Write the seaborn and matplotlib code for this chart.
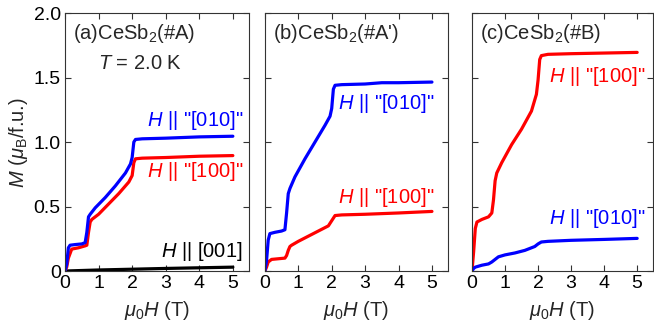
import numpy as np
import matplotlib
matplotlib.use("Agg")
import matplotlib.pyplot as plt
import seaborn as sns

sns.set_style("ticks")
plt.rcParams["font.family"] = ["Liberation Sans", "DejaVu Sans"]
plt.rcParams["mathtext.fontset"] = "custom"
plt.rcParams["mathtext.rm"] = "Liberation Sans"
plt.rcParams["mathtext.it"] = "Liberation Sans:italic"
plt.rcParams["mathtext.bf"] = "Liberation Sans:bold"

# panel (a) sample #A
a_h010 = [0, 0.05, 0.1, 0.15, 0.3, 0.5, 0.6, 0.65, 0.7, 0.75, 0.9, 1.2, 1.5, 1.8, 1.95, 2.0, 2.05, 2.1, 2.3, 3, 4, 5]
a_m010 = [0, 0.05, 0.18, 0.2, 0.205, 0.21, 0.22, 0.3, 0.42, 0.44, 0.49, 0.57, 0.66, 0.76, 0.83, 0.88, 1.0, 1.02, 1.025, 1.03, 1.04, 1.045]
a_h100 = [0, 0.05, 0.1, 0.2, 0.4, 0.6, 0.65, 0.7, 0.75, 0.8, 1.0, 1.3, 1.6, 1.9, 2.0, 2.05, 2.1, 2.3, 3, 4, 5]
a_m100 = [0, 0.03, 0.1, 0.17, 0.18, 0.195, 0.2, 0.3, 0.38, 0.4, 0.44, 0.52, 0.6, 0.69, 0.74, 0.84, 0.87, 0.875, 0.88, 0.89, 0.895]
a_h001 = [0, 1, 2, 3, 4, 5]
a_m001 = [0, 0.008, 0.014, 0.02, 0.025, 0.03]

# panel (b) sample #A'
b_h010 = [0, 0.05, 0.1, 0.15, 0.3, 0.5, 0.6, 0.65, 0.7, 0.75, 0.9, 1.2, 1.5, 1.8, 1.95, 2.0, 2.05, 2.1, 2.3, 3, 3.5, 4, 5]
b_m010 = [0, 0.08, 0.24, 0.29, 0.3, 0.31, 0.32, 0.45, 0.6, 0.64, 0.73, 0.87, 1.0, 1.13, 1.2, 1.26, 1.41, 1.44, 1.445, 1.45, 1.46, 1.46, 1.465]
b_h100 = [0, 0.05, 0.1, 0.2, 0.4, 0.6, 0.65, 0.7, 0.75, 0.8, 1.0, 1.3, 1.6, 1.9, 2.0, 2.1, 2.3, 3, 4, 5]
b_m100 = [0, 0.03, 0.07, 0.09, 0.095, 0.1, 0.12, 0.16, 0.19, 0.2, 0.23, 0.27, 0.31, 0.35, 0.39, 0.43, 0.435, 0.44, 0.45, 0.462]

# panel (c) sample #B
c_h100 = [0, 0.05, 0.1, 0.15, 0.3, 0.5, 0.6, 0.65, 0.7, 0.75, 0.9, 1.2, 1.5, 1.8, 1.95, 2.0, 2.05, 2.1, 2.3, 3, 4, 5]
c_m100 = [0, 0.15, 0.33, 0.38, 0.4, 0.42, 0.45, 0.55, 0.7, 0.76, 0.84, 0.98, 1.1, 1.24, 1.37, 1.48, 1.64, 1.67, 1.68, 1.685, 1.69, 1.695]
c_h010 = [0, 0.05, 0.1, 0.3, 0.5, 0.6, 0.7, 0.8, 1.0, 1.3, 1.6, 1.9, 2.0, 2.1, 2.3, 3, 4, 5]
c_m010 = [0, 0.02, 0.03, 0.045, 0.055, 0.07, 0.09, 0.11, 0.125, 0.14, 0.16, 0.19, 0.21, 0.225, 0.23, 0.238, 0.245, 0.253]

titles = ["(a)CeSb$_2$(#A)", "(b)CeSb$_2$(#A')", "(c)CeSb$_2$(#B)"]
lbl010 = r'$H$ || "[010]"'
lbl100 = r'$H$ || "[100]"'
lbl001 = r'$H$ || [001]'

blue, red = "#0000ff", "#ff0000"
lw = 2.3
fs = 14.5

fig = plt.figure(figsize=(6.54, 3.35), dpi=100)
bottom, top = 0.191, 0.961
lefts = [0.0994, 0.405, 0.7217]
widths = [0.2813, 0.280, 0.2768]
axes = [fig.add_axes([l, bottom, w, top - bottom]) for l, w in zip(lefts, widths)]

ax = axes[0]
sns.lineplot(x=a_h001, y=a_m001, color="black", lw=lw, ax=ax)
sns.lineplot(x=a_h100, y=a_m100, color=red, lw=lw, ax=ax)
sns.lineplot(x=a_h010, y=a_m010, color=blue, lw=lw, ax=ax)
ax.text(5.3, 1.17, lbl010, color=blue, ha="right", va="center", fontsize=fs)
ax.text(5.3, 0.77, lbl100, color=red, ha="right", va="center", fontsize=fs)
ax.text(5.3, 0.15, lbl001, color="black", ha="right", va="center", fontsize=fs)
ax.text(2.23, 1.61, "$T$ = 2.0 K", ha="center", va="center", fontsize=fs)

ax = axes[1]
sns.lineplot(x=b_h100, y=b_m100, color=red, lw=lw, ax=ax)
sns.lineplot(x=b_h010, y=b_m010, color=blue, lw=lw, ax=ax)
ax.text(5.06, 1.30, lbl010, color=blue, ha="right", va="center", fontsize=fs)
ax.text(5.06, 0.57, lbl100, color=red, ha="right", va="center", fontsize=fs)

ax = axes[2]
sns.lineplot(x=c_h100, y=c_m100, color=red, lw=lw, ax=ax)
sns.lineplot(x=c_h010, y=c_m010, color=blue, lw=lw, ax=ax)
ax.text(5.24, 1.51, lbl100, color=red, ha="right", va="center", fontsize=fs)
ax.text(5.24, 0.41, lbl010, color=blue, ha="right", va="center", fontsize=fs)

for i, ax in enumerate(axes):
    ax.set_xlim(0, 5.48)
    ax.set_ylim(0, 2.0)
    ax.set_xticks([0, 1, 2, 3, 4, 5])
    ax.set_yticks([0, 0.5, 1.0, 1.5, 2.0])
    ax.tick_params(direction="in", top=True, right=True, length=4, width=0.8,
                   labelsize=14, colors="#333333", labelcolor="black", pad=3)
    for s in ax.spines.values():
        s.set_visible(True)
        s.set_linewidth(0.8)
        s.set_color("#333333")
    ax.set_xlabel(r"$\mu_0H$ (T)", fontsize=fs, labelpad=5)
    ax.text(1.845 * 0 + 0.045, 1.845 / 2.0, titles[i], transform=ax.transAxes,
            ha="left", va="center", fontsize=fs)
    if i == 0:
        ax.set_yticklabels(["0", "0.5", "1.0", "1.5", "2.0"])
        ax.set_ylabel(r"$M$ ($\mu_{\rm B}$/f.u.)", fontsize=fs, labelpad=3)
    else:
        ax.set_yticklabels([])
        ax.set_ylabel("")

fig.savefig("out.png", dpi=100)
